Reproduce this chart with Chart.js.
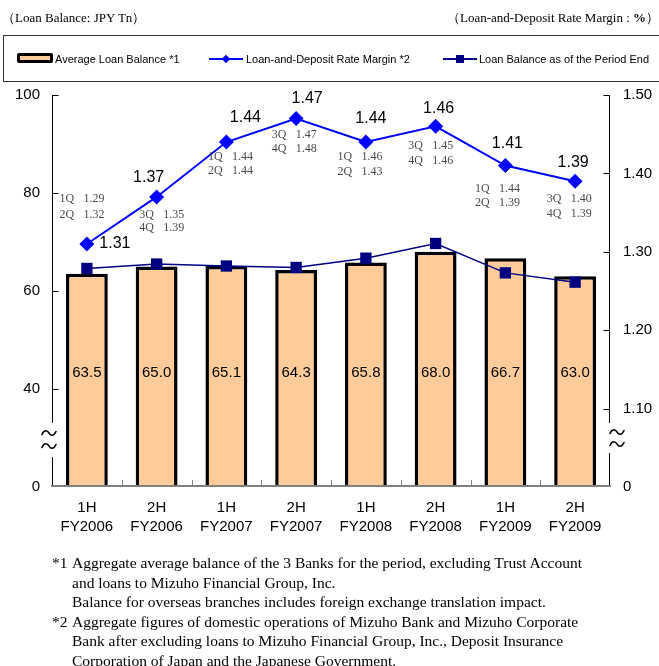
<!DOCTYPE html>
<html>
<head>
<meta charset="utf-8">
<script src="https://cdn.jsdelivr.net/npm/chart.js@4.4.0/dist/chart.umd.min.js"></script>
<style>
  html, body { margin: 0; padding: 0; background: #fff; }
  body { width: 659px; height: 666px; position: relative; overflow: hidden; }
  #chart { position: absolute; left: 0; top: 0; }
  .hdr { position: absolute; top: 9px; font: 13px "Liberation Serif", "Times New Roman", serif; color: #000; white-space: nowrap; }
  #legendBox { position: absolute; left: 3px; top: 35px; width: 670px; height: 45px; border: 1px solid #333; border-right: none; }
  .lgText { position: absolute; top: 52px; font: 11px "Liberation Sans", Arial, sans-serif; color: #000; white-space: nowrap; line-height: 14px; }
  .lgSwatch { position: absolute; left: 17px; top: 53px; width: 30px; height: 4px; border: 3px solid #000; background: #FFCC99; border-radius: 2px; }
  .lgLine { position: absolute; height: 2px; top: 58px; width: 34px; }
  .lgDiamond { position: absolute; width: 6px; height: 6px; top: 56px; background: #0000FF; transform: rotate(45deg); }
  .lgSquare { position: absolute; width: 8px; height: 8px; top: 55px; background: #000080; }
  .notes { position: absolute; left: 52px; top: 553px; font: 15.5px "Liberation Serif", "Times New Roman", serif; color: #000; line-height: 19.5px; white-space: nowrap; }
  .notes div.ind { padding-left: 20px; }
  .notes span.mk { display: inline-block; width: 20px; }
</style>
</head>
<body>
<canvas id="chart" width="659" height="666"></canvas>

<div class="hdr" style="left:2px;">（Loan Balance: JPY Tn）</div>
<div class="hdr" style="right:0px;">（Loan-and-Deposit Rate Margin : <b>%</b>）</div>

<div id="legendBox"></div>
<div class="lgSwatch"></div>
<div class="lgText" style="left:55px;">Average Loan Balance *1</div>
<div class="lgLine" style="left:209px; background:#0000FF;"></div>
<div class="lgDiamond" style="left:223px;"></div>
<div class="lgText" style="left:246px;">Loan-and-Deposit Rate Margin *2</div>
<div class="lgLine" style="left:443px; background:#000080;"></div>
<div class="lgSquare" style="left:456px;"></div>
<div class="lgText" style="left:479px;">Loan Balance as of the Period End</div>

<div class="notes">
  <div><span class="mk">*1</span>Aggregate average balance of the 3 Banks for the period, excluding Trust Account</div>
  <div class="ind">and loans to Mizuho Financial Group, Inc.</div>
  <div class="ind">Balance for overseas branches includes foreign exchange translation impact.</div>
  <div><span class="mk">*2</span>Aggregate figures of domestic operations of Mizuho Bank and Mizuho Corporate</div>
  <div class="ind">Bank after excluding loans to Mizuho Financial Group, Inc., Deposit Insurance</div>
  <div class="ind">Corporation of Japan and the Japanese Government.</div>
</div>

<script>
// Half-year periods
const halfLabels = ['1H', '2H', '1H', '2H', '1H', '2H', '1H', '2H'];
const fiscalYears = ['FY2006', 'FY2006', 'FY2007', 'FY2007', 'FY2008', 'FY2008', 'FY2009', 'FY2009'];

// Loan balances (JPY Tn)
const avgLoanBalance = [63.5, 65.0, 65.1, 64.3, 65.8, 68.0, 66.7, 63.0];
const periodEndBalance = [64.6, 65.5, 65.1, 64.8, 66.7, 69.7, 63.7, 61.8];

// Loan-and-deposit rate margin (%)
const rateMargin = [1.31, 1.37, 1.44, 1.47, 1.44, 1.46, 1.41, 1.39];

// Quarterly breakdown of the margin
const quarterNamesA = ['1Q', '3Q', '1Q', '3Q', '1Q', '3Q', '1Q', '3Q'];
const quarterMarginA = [1.29, 1.35, 1.44, 1.47, 1.46, 1.45, 1.44, 1.40];
const quarterNamesB = ['2Q', '4Q', '2Q', '4Q', '2Q', '4Q', '2Q', '4Q'];
const quarterMarginB = [1.32, 1.39, 1.44, 1.48, 1.43, 1.46, 1.39, 1.39];

// Axis ticks (the lowest tick stands for the broken-axis zero)
const leftTickValues = [20, 40, 60, 80, 100];
const leftTickLabels = ['0', '40', '60', '80', '100'];
const rightTickValues = [1.0, 1.1, 1.2, 1.3, 1.4, 1.5];
const rightTickLabels = ['0', '1.10', '1.20', '1.30', '1.40', '1.50'];

const SANS = '"Liberation Sans", Arial, sans-serif';
const SERIF = '"Liberation Serif", "Times New Roman", serif';

// Label placement around each margin point: [dx, dy] for the headline value,
// [dx, dy1, dy2] for the two quarterly lines.
const marginLabelOffset = [[28, 0], [-8, -19], [19, -24], [11, -20], [5, -23], [3, -18], [2, -22], [-2, -19]];
const quarterLabelOffset = [[-5, -45, -29], [5, 18, 31], [4, 15, 29], [-2, 16, 30], [-6, 15, 30], [-5, 19, 34], [-8, 23, 37], [-6, 18, 33]];

// small wave used as the axis-break symbol
function drawWave(ctx, cx, cy) {
  ctx.beginPath();
  ctx.moveTo(cx - 7, cy + 1.5);
  ctx.bezierCurveTo(cx - 4.5, cy - 4, cx - 1.5, cy - 2.5, cx, cy);
  ctx.bezierCurveTo(cx + 1.5, cy + 2.5, cx + 4.5, cy + 4, cx + 7, cy - 1.5);
  ctx.stroke();
}

const annotations = {
  id: 'annotations',
  afterDatasetsDraw(chart) {
    const ctx = chart.ctx;
    const area = chart.chartArea;
    ctx.save();

    // values inside the bars
    const barMeta = chart.getDatasetMeta(0);
    ctx.font = '15px ' + SANS;
    ctx.fillStyle = '#000';
    ctx.textAlign = 'center';
    ctx.textBaseline = 'middle';
    barMeta.data.forEach((bar, i) => {
      ctx.fillText(avgLoanBalance[i].toFixed(1), bar.x, area.bottom - 114);
    });

    // margin labels with quarterly details
    const lineMeta = chart.getDatasetMeta(2);
    lineMeta.data.forEach((pt, i) => {
      const [dx, dy] = marginLabelOffset[i];
      ctx.font = '16px ' + SANS;
      ctx.fillStyle = '#000';
      ctx.textAlign = 'center';
      ctx.fillText(rateMargin[i].toFixed(2), pt.x + dx, pt.y + dy);

      const [qx, qy1, qy2] = quarterLabelOffset[i];
      const cx = pt.x + qx;
      ctx.font = '12px ' + SERIF;
      ctx.fillStyle = '#4a4a4a';
      [[quarterNamesA[i], quarterMarginA[i], qy1], [quarterNamesB[i], quarterMarginB[i], qy2]].forEach(([name, val, dy2]) => {
        ctx.textAlign = 'left';
        ctx.fillText(name, cx - 22.5, pt.y + dy2);
        ctx.textAlign = 'right';
        ctx.fillText(val.toFixed(2), cx + 22.5, pt.y + dy2);
      });
    });
    ctx.restore();
  },
  afterDraw(chart) {
    const ctx = chart.ctx;
    const area = chart.chartArea;
    const yL = chart.scales.y;
    const yR = chart.scales.y1;
    const x = chart.scales.x;
    ctx.save();

    // vertical axes with a break near the bottom
    ctx.strokeStyle = '#000';
    ctx.lineWidth = 1;
    const lx = area.left + 0.5;
    const rx = area.right - 0.5;
    ctx.beginPath();
    ctx.moveTo(lx, area.top); ctx.lineTo(lx, area.bottom - 64);
    ctx.moveTo(lx, area.bottom - 30); ctx.lineTo(lx, area.bottom);
    ctx.moveTo(rx, area.top); ctx.lineTo(rx, area.bottom - 64);
    ctx.moveTo(rx, area.bottom - 34); ctx.lineTo(rx, area.bottom);
    ctx.stroke();

    // inward tick marks
    ctx.beginPath();
    leftTickValues.slice(1).forEach(v => {
      const py = Math.round(yL.getPixelForValue(v)) + 0.5;
      ctx.moveTo(lx, py); ctx.lineTo(lx + 6, py);
    });
    rightTickValues.slice(1).forEach(v => {
      const py = Math.round(yR.getPixelForValue(v)) + 0.5;
      ctx.moveTo(rx, py); ctx.lineTo(rx - 6, py);
    });
    ctx.stroke();

    // break symbols
    ctx.lineWidth = 1.6;
    ctx.lineCap = 'round';
    drawWave(ctx, area.left - 3, area.bottom - 54);
    drawWave(ctx, area.left - 3, area.bottom - 41);
    drawWave(ctx, area.right + 7, area.bottom - 55);
    drawWave(ctx, area.right + 7, area.bottom - 43);

    // category axis
    ctx.lineCap = 'butt';
    ctx.strokeStyle = '#808080';
    ctx.lineWidth = 2;
    ctx.beginPath();
    ctx.moveTo(area.left - 1, area.bottom - 1); ctx.lineTo(area.right + 1, area.bottom - 1);
    ctx.stroke();
    ctx.lineWidth = 1;
    ctx.beginPath();
    for (let i = 1; i < halfLabels.length; i++) {
      const bx = Math.round((x.getPixelForValue(i - 1) + x.getPixelForValue(i)) / 2) + 0.5;
      ctx.moveTo(bx, area.bottom - 2); ctx.lineTo(bx, area.bottom - 7);
    }
    ctx.stroke();
    ctx.restore();
  }
};

new Chart(document.getElementById('chart'), {
  data: {
    labels: halfLabels.map((h, i) => [h, fiscalYears[i]]),
    datasets: [
      {
        type: 'bar',
        label: 'Average Loan Balance *1',
        data: avgLoanBalance,
        yAxisID: 'y',
        backgroundColor: '#FFCC99',
        borderColor: '#000',
        borderWidth: 3.5,
        borderSkipped: false,
        barPercentage: 0.6,
        categoryPercentage: 1.0,
        order: 3
      },
      {
        type: 'line',
        label: 'Loan Balance as of the Period End',
        data: periodEndBalance,
        yAxisID: 'y',
        borderColor: '#000080',
        backgroundColor: '#000080',
        borderWidth: 1.5,
        pointStyle: 'rect',
        pointRadius: 8,
        pointBorderWidth: 0,
        tension: 0,
        clip: false,
        order: 2
      },
      {
        type: 'line',
        label: 'Loan-and-Deposit Rate Margin *2',
        data: rateMargin,
        yAxisID: 'y1',
        borderColor: '#0000FF',
        backgroundColor: '#0000FF',
        borderWidth: 2,
        pointStyle: 'rectRot',
        pointRadius: 7.5,
        pointBorderWidth: 0,
        tension: 0,
        clip: false,
        order: 1
      }
    ]
  },
  options: {
    responsive: false,
    animation: false,
    devicePixelRatio: 1,
    layout: { padding: { top: 95, left: 0, right: 0, bottom: 0 } },
    plugins: { legend: { display: false }, tooltip: { enabled: false } },
    scales: {
      x: {
        offset: true,
        grid: { display: false, drawTicks: false },
        border: { display: false },
        ticks: { color: '#000', font: { family: SANS, size: 15, lineHeight: 1.3 }, padding: 11, maxRotation: 0, autoSkip: false },
        afterFit(s) { s.height = 666 - 487; }
      },
      y: {
        position: 'left',
        min: 20, max: 100,
        grid: { display: false, drawTicks: false },
        border: { display: false },
        afterBuildTicks(s) { s.ticks = leftTickValues.map(v => ({ value: v })); },
        ticks: {
          color: '#000', font: { family: SANS, size: 15 }, padding: 12,
          callback: (v) => leftTickLabels[leftTickValues.indexOf(v)]
        },
        afterFit(s) { s.width = 52; }
      },
      y1: {
        position: 'right',
        min: 1.0, max: 1.5,
        grid: { display: false, drawTicks: false },
        border: { display: false },
        afterBuildTicks(s) { s.ticks = rightTickValues.map(v => ({ value: v })); },
        ticks: {
          color: '#000', font: { family: SANS, size: 15 }, padding: 13,
          callback: (v) => {
            const i = rightTickValues.findIndex(t => Math.abs(t - v) < 1e-9);
            return rightTickLabels[i];
          }
        },
        afterFit(s) { s.width = 659 - 610; }
      }
    }
  },
  plugins: [annotations]
});
</script>
</body>
</html>
